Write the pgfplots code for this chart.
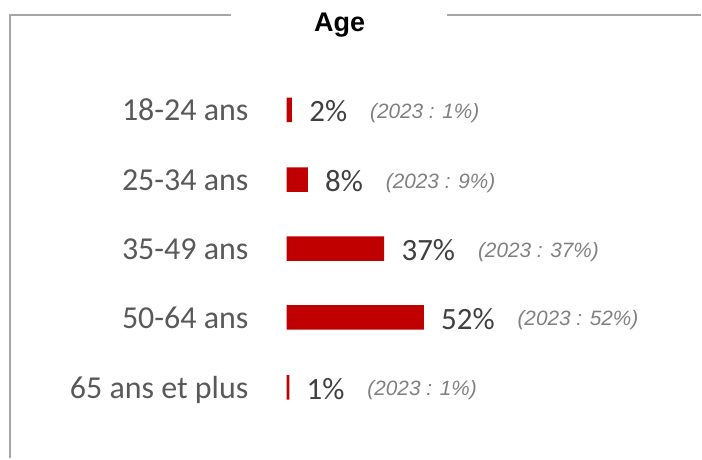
\documentclass[border=0pt]{standalone}
\usepackage{pgfplots}
\pgfplotsset{compat=1.18}
\usepackage{pgfplotstable}
\usepackage{fontspec}
\setmainfont{Carlito}
\newfontfamily\arial{Liberation Sans}
\definecolor{barred}{HTML}{C00000}
\definecolor{valgray}{HTML}{404040}
\definecolor{catgray}{HTML}{595959}
\definecolor{oldgray}{HTML}{808080}
\definecolor{framegray}{HTML}{A6A6A6}
\pgfplotstableread{
y val prev
110 2 1
180 8 9
249 37 37
318 52 52
388 1 1
}\agedata
\begin{document}
\begin{tikzpicture}
\begin{axis}[
  scale only axis, width=351bp, height=229.5bp,
  xmin=-108.71, xmax=157.2, ymin=0, ymax=459, y dir=reverse,
  axis line style={draw=none},
  xtick=\empty,
  ytick={110,180,249,318,388},
  yticklabels={18-24 ans,25-34 ans,35-49 ans,50-64 ans,65 ans et plus},
  major tick length=0pt,
  yticklabel style={anchor=base east, inner sep=0pt, xshift=124.5bp, yshift=-5.5bp,
    font=\fontsize{16bp}{19bp}\selectfont, text=catgray},
  clip=false,
  xbar, bar width=12.25bp,
  /pgf/number format/assume math mode=true,
  nodes near coords align={horizontal},
]
\addplot[fill=barred, draw=none, point meta=x,
  visualization depends on={\thisrow{prev}\as\prev},
  nodes near coords={\textcolor{valgray}{\fontsize{15.5bp}{18bp}\selectfont\pgfmathprintnumber{\pgfplotspointmeta}\%}\hspace{11.5bp}\raisebox{1.75bp}{\color{oldgray}\arial\itshape\fontsize{10.4bp}{12bp}\selectfont (2023 : \pgfmathprintnumber{\prev}\%)}},
  every node near coord/.append style={anchor=base west, inner sep=0pt, xshift=8.5bp, yshift=-6bp},
] table[x=val, y=y]{\agedata};
\draw[framegray, line width=1bp] (axis cs:-21.21,15) -- (axis cs:-104.92,15) -- (axis cs:-104.92,459);
\draw[framegray, line width=1bp] (axis cs:60.98,15) -- (axis cs:157.2,15);
\node[anchor=base, inner sep=0pt, font=\arial\bfseries\fontsize{13.5bp}{16bp}\selectfont] at (axis cs:20.08,32) {Age};
\end{axis}
\end{tikzpicture}
\end{document}
